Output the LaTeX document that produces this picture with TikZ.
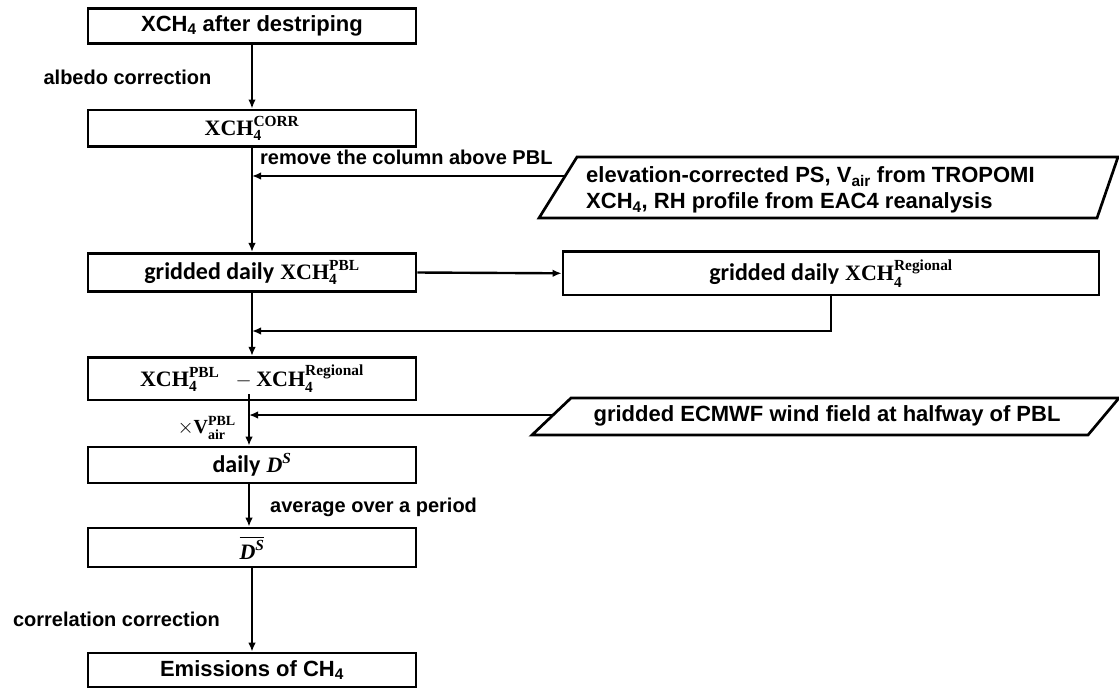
\documentclass[tikz,border=0pt]{standalone}
\usepackage{amsmath}
\usepackage{fontspec}
\setmainfont{Liberation Serif}
\setsansfont{Liberation Sans}
\newfontfamily\calfont{Carlito}
\usetikzlibrary{arrows.meta,calc}
\newcommand\mb[1]{\textrm{\bfseries #1}}
\newcommand\bi[1]{\textrm{\bfseries\itshape #1}}
\newcommand\cw[1]{{\calfont\fontsize{24}{28}\selectfont #1}}
\begin{document}
\begin{tikzpicture}[x=1pt,y=-1pt,
  box/.style={draw, line width=2.7pt, inner sep=0pt, minimum width=328pt,
    font=\sffamily\bfseries\fontsize{22}{26}\selectfont, align=center},
  arr/.style={line width=2.4pt, -{Latex[length=9pt,width=7.5pt]}},
  lab/.style={inner sep=0pt, font=\sffamily\bfseries\fontsize{20}{24}\selectfont},
  ptext/.style={inner sep=0pt, font=\sffamily\bfseries\fontsize{22}{26}\selectfont},
  para/.style={line width=2.7pt, line join=miter}
]
\useasboundingbox (0,0) rectangle (1119,689);

% main boxes
\node[box, minimum height=35pt] (b1) at (252,25.8) {XCH\textsubscript{4} after destriping};
\node[box, minimum height=36.7pt] (b2) at (252,128.3) {$\mb{XCH}_{\mb{4}}^{\mb{CORR}}$};
\node[box, minimum height=38.4pt] (b3) at (252,272.5) {\cw{gridded daily} $\mb{XCH}_{\mb{4}}^{\mb{PBL}}$};
\node[box, minimum width=536pt, minimum height=43.3pt] (b4) at (831,273.3) {\cw{gridded daily} $\mb{XCH}_{\mb{4}}^{\mb{Regional}}$};
\node[box, minimum height=42.7pt] (b5) at (252,378.6) {$\mb{XCH}_{\mb{4}}^{\mb{PBL}}\;\;-\mb{XCH}_{\mb{4}}^{\mb{Regional}}$};
\node[box, minimum height=36pt] (b6) at (252,465) {\cw{daily} $\bi{D}^{\bi{S}}$};
\node[box, minimum height=39pt] (b7) at (252,547.5) {$\overline{\bi{D}^{\bi{S}}}$};
\node[box, minimum height=34pt] (b8) at (252,670) {Emissions of CH\textsubscript{4}};

% parallelograms
\coordinate (p1a) at (577,157);
\coordinate (p1b) at (1118,157);
\coordinate (p1c) at (1097,218);
\coordinate (p1d) at (539,218);
\draw[para] (p1a) -- (p1b) -- (p1c) -- (p1d) -- cycle;
\node[ptext, anchor=west, align=left] (p1) at (586,190)
  {elevation-corrected PS, V\textsubscript{air} from TROPOMI\\XCH\textsubscript{4}, RH profile from EAC4 reanalysis};
\coordinate (p1in) at ($(p1a)!0.311!(p1d)$);

\coordinate (p2a) at (571,398);
\coordinate (p2b) at (1119,398);
\coordinate (p2c) at (1088,435);
\coordinate (p2d) at (532,435);
\draw[para] (p2a) -- (p2b) -- (p2c) -- (p2d) -- cycle;
\node[ptext] (p2) at (827,416) {gridded ECMWF wind field at halfway of PBL};
\coordinate (p2in) at ($(p2a)!0.46!(p2d)$);

% connectors
\draw[arr] (b1.south) -- (b2.north);
\draw[arr] (b2.south) -- (b3.north);
\draw[arr] (p1in) -- (p1in -| b2.south);
\draw[arr] (b3.east) -- (b4.west);
\coordinate (j2) at (252,331);
\draw[arr] (b4.south) -- (b4.south |- j2) -- (j2);
\draw[arr] (b3.south) -- (b5.north);
\coordinate (j3) at (249,394);
\draw[arr] (j3) -- (j3 |- b6.north);
\draw[arr] (p2in) -- (p2in -| j3);
\coordinate (j4) at (249,483);
\draw[arr] (j4) -- (j4 |- b7.north);
\draw[arr] (b7.south) -- (b8.north);

% labels
\node[lab] (l1) at (127.5,77) {albedo correction};
\node[lab, anchor=west] (l2) at (260,157) {remove the column above PBL};
\node[lab, anchor=east, font=\fontsize{20}{24}\selectfont] (l3) at (236,428) {$\times\mb{V}_{\mb{air}}^{\mb{PBL}}$};
\node[lab, anchor=west] (l4) at (270,507) {average over a period};
\node[lab, anchor=east] (l5) at (220,619) {correlation correction};
\end{tikzpicture}
\end{document}
